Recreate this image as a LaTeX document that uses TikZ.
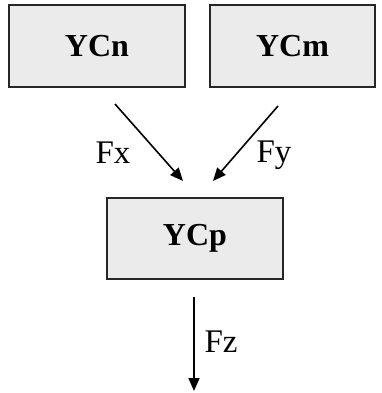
\documentclass[tikz,border=0pt]{standalone}
\usepackage{fontspec}
\setmainfont{Liberation Serif}
\usetikzlibrary{arrows.meta}
\definecolor{boxfill}{HTML}{EBEBEB}
\begin{document}
\begin{tikzpicture}[x=1pt,y=-1pt,
  cbox/.style={draw=black!85, line width=2.6pt, fill=boxfill, inner sep=0pt,
    font=\fontsize{32}{38}\selectfont\bfseries},
  flow/.style={line width=1.6pt, -{Triangle[length=13pt,width=11pt]}},
  lbl/.style={font=\fontsize{33}{38}\selectfont}]
\useasboundingbox (0,0) rectangle (381,393);
\node[cbox, minimum width=176pt, minimum height=82pt] (n) at (97,46) {YCn};
\node[cbox, minimum width=165pt, minimum height=82pt] (m) at (292.5,46) {YCm};
\node[cbox, minimum width=176pt, minimum height=81pt] (p) at (195,238.5) {YCp};
\coordinate (a1s) at (115,104);
\coordinate (a1e) at (183,181);
\coordinate (a2s) at (278,106);
\coordinate (a2e) at (213,181);
\coordinate (a3s) at (194,297);
\coordinate (a3e) at (194,391);
\draw[flow] (a1s) -- (a1e);
\draw[flow] (a2s) -- (a2e);
\draw[flow] (a3s) -- (a3e);
\node[lbl] (fx) at (113,153) {Fx};
\node[lbl] (fy) at (274,155) {Fy};
\node[lbl] (fz) at (221,342) {Fz};
\end{tikzpicture}
\end{document}
